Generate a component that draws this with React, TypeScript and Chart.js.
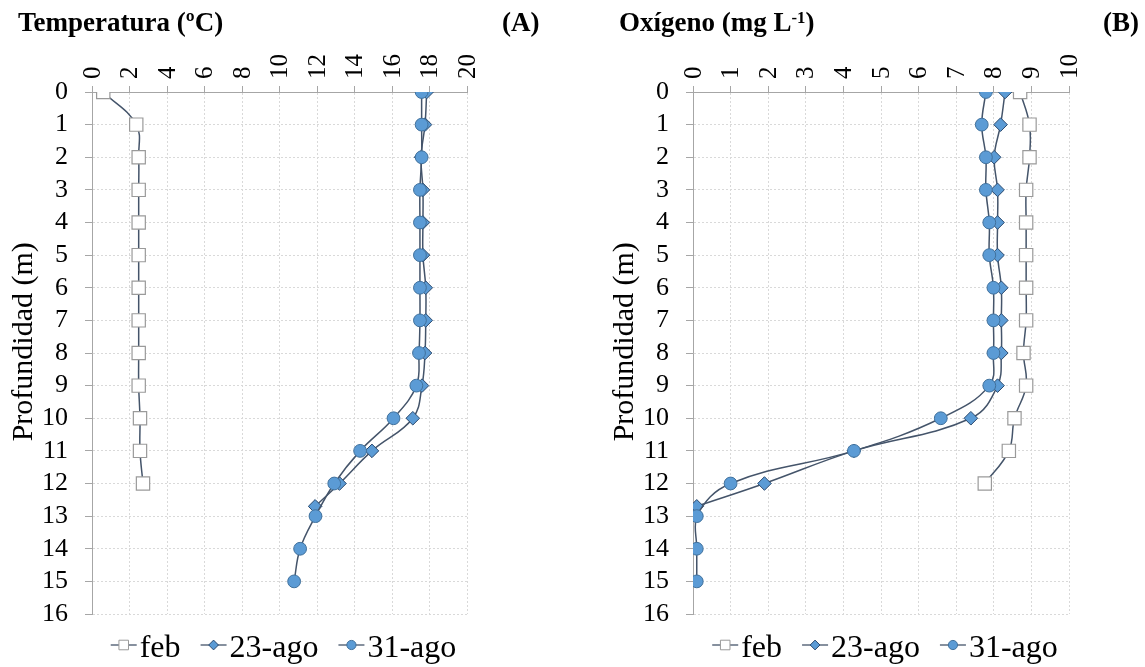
import React, { useEffect, useRef } from 'react';
import { Chart, registerables } from 'chart.js';

Chart.register(...registerables);

// ---------- data ----------
const seriesLabels = ['feb', '23-ago', '31-ago'];

const febDepth = [0, 1, 2, 3, 4, 5, 6, 7, 8, 9, 10, 11, 12];
const ago23Depth = [0, 1, 2, 3, 4, 5, 6, 7, 8, 9, 10, 11, 12, 12.7];
const ago31Depth = [0, 1, 2, 3, 4, 5, 6, 7, 8, 9, 10, 11, 12, 13, 14, 15];

const tempFeb = [0.6, 2.36, 2.49, 2.49, 2.49, 2.49, 2.49, 2.49, 2.49, 2.49, 2.56, 2.56, 2.72];
const temp23 = [17.85, 17.76, 17.55, 17.65, 17.65, 17.65, 17.8, 17.8, 17.76, 17.6, 17.11, 14.93, 13.2, 11.9];
const temp31 = [17.58, 17.58, 17.58, 17.49, 17.49, 17.49, 17.49, 17.49, 17.44, 17.3, 16.08, 14.3, 12.92, 11.92, 11.1, 10.78];

const oxyFeb = [8.7, 8.95, 8.95, 8.86, 8.86, 8.86, 8.86, 8.86, 8.79, 8.86, 8.55, 8.4, 7.76];
const oxy23 = [8.3, 8.18, 8.01, 8.1, 8.1, 8.1, 8.2, 8.2, 8.2, 8.1, 7.39, 4.28, 1.9, 0.1];
const oxy31 = [7.79, 7.68, 7.79, 7.79, 7.88, 7.88, 7.99, 7.99, 7.99, 7.88, 6.59, 4.28, 1.0, 0.1, 0.1, 0.1];

const depthMin = 0;
const depthMax = 16;
const tempMax = 20;
const tempStep = 2;
const oxyMax = 10;
const oxyStep = 1;

const yTitle = '   Profundidad (m)';

// ---------- styles ----------
const SERIF = '"Liberation Serif", "Times New Roman", serif';
const LINE = '#44546A';
const BLUE = '#5B9BD5';
const GRID = '#D9D9D9';
const AXIS = '#A6A6A6';
const X_TICK_LEN = 6;
const X_TICK_PAD = 7;

function pts(values: number[], depths: number[]) {
  return values.map((v, i) => ({ x: v, y: depths[i] }));
}

function drawMarker(ctx: CanvasRenderingContext2D, style: string, x: number, y: number, r: number, fill: string, stroke: string, bw: number) {
  ctx.beginPath();
  if (style === 'rect') {
    const s = r * Math.SQRT1_2;
    ctx.rect(x - s, y - s, 2 * s, 2 * s);
  } else if (style === 'rectRot') {
    ctx.moveTo(x, y - r);
    ctx.lineTo(x + r, y);
    ctx.lineTo(x, y + r);
    ctx.lineTo(x - r, y);
    ctx.closePath();
  } else {
    ctx.arc(x, y, r, 0, Math.PI * 2);
  }
  ctx.fillStyle = fill;
  ctx.fill();
  ctx.lineWidth = bw;
  ctx.strokeStyle = stroke;
  ctx.stroke();
}

// rotated tick labels of the top x axis, placed with the library's own scale
const topTickLabels = {
  id: 'topTickLabels',
  afterDraw(chart: any) {
    const { ctx, chartArea } = chart;
    const scale = chart.scales.x;
    ctx.save();
    ctx.font = `25px ${SERIF}`;
    ctx.fillStyle = '#000';
    ctx.textAlign = 'left';
    ctx.textBaseline = 'middle';
    scale.ticks.forEach((t: any) => {
      const x = scale.getPixelForValue(t.value);
      ctx.save();
      ctx.translate(x + 1, chartArea.top - X_TICK_LEN - X_TICK_PAD);
      ctx.rotate(-Math.PI / 2);
      ctx.fillText(String(t.value), 0, 0);
      ctx.restore();
    });
    ctx.restore();
  },
};

const excelLegend = {
  id: 'excelLegend',
  afterDraw(chart: any) {
    const { ctx, chartArea } = chart;
    ctx.save();
    ctx.font = `32px ${SERIF}`;
    const lineLen = 26;
    const gapText = 3;
    const gapItem = 20;
    const items = chart.data.datasets.map((ds: any) => ({ ds, w: ctx.measureText(ds.label).width }));
    const total = items.reduce((s: number, it: any) => s + lineLen + gapText + it.w, 0) + gapItem * (items.length - 1);
    let x = (chartArea.left + chartArea.right) / 2 + 4 - total / 2;
    const yMid = chartArea.bottom + 31;
    const yBase = chartArea.bottom + 43;
    items.forEach((it: any) => {
      const ds = it.ds;
      ctx.strokeStyle = ds.borderColor;
      ctx.lineWidth = 1.3;
      ctx.beginPath();
      ctx.moveTo(x, yMid);
      ctx.lineTo(x + lineLen, yMid);
      ctx.stroke();
      drawMarker(ctx, ds.pointStyle, x + lineLen / 2, yMid, ds.pointRadius * 0.72, ds.pointBackgroundColor, ds.pointBorderColor, 1);
      ctx.fillStyle = '#000';
      ctx.textAlign = 'left';
      ctx.textBaseline = 'alphabetic';
      ctx.fillText(ds.label, x + lineLen + gapText, yBase);
      x += lineLen + gapText + it.w + gapItem;
    });
    ctx.restore();
  },
};

function makeConfig(feb: number[], a23: number[], a31: number[], xMax: number, xStep: number, rightPad: number): any {
  const common = {
    showLine: true,
    borderColor: LINE,
    borderWidth: 1.5,
    tension: 0.4,
    fill: false,
  };
  return {
    type: 'scatter',
    data: {
      datasets: [
        {
          ...common,
          label: seriesLabels[0],
          data: pts(feb, febDepth),
          pointStyle: 'rect',
          pointRadius: 9.4,
          pointBackgroundColor: '#FFFFFF',
          pointBorderColor: '#9A9A9A',
          pointBorderWidth: 1.2,
          order: 3,
        },
        {
          ...common,
          label: seriesLabels[1],
          data: pts(a23, ago23Depth),
          pointStyle: 'rectRot',
          pointRadius: 6.8,
          pointBackgroundColor: BLUE,
          pointBorderColor: '#2C4A6E',
          pointBorderWidth: 1,
          order: 2,
        },
        {
          ...common,
          label: seriesLabels[2],
          data: pts(a31, ago31Depth),
          pointStyle: 'circle',
          pointRadius: 6.4,
          pointBackgroundColor: BLUE,
          pointBorderColor: '#41719C',
          pointBorderWidth: 1,
          order: 1,
        },
      ],
    },
    options: {
      responsive: false,
      animation: false,
      layout: { padding: { left: 0, top: 0, right: rightPad, bottom: 53 } },
      plugins: {
        legend: { display: false },
        title: { display: false },
        tooltip: { enabled: false },
      },
      scales: {
        x: {
          type: 'linear',
          position: 'top',
          min: 0,
          max: xMax,
          afterFit: (s: any) => { s.height = 92; },
          ticks: {
            stepSize: xStep,
            autoSkip: false,
            display: false,
          },
          grid: { color: GRID, lineWidth: 1, tickLength: X_TICK_LEN, tickColor: AXIS, tickWidth: 1 },
          border: { display: true, color: AXIS, width: 1, dash: [2, 2] },
        },
        y: {
          type: 'linear',
          reverse: true,
          min: depthMin,
          max: depthMax,
          afterFit: (s: any) => { s.width = 92; },
          ticks: {
            stepSize: 1,
            autoSkip: false,
            padding: 17,
            color: '#000',
            font: { family: SERIF, size: 26 },
          },
          grid: { color: GRID, lineWidth: 1, tickLength: 7, tickColor: AXIS, tickWidth: 1 },
          border: { display: true, color: AXIS, width: 1, dash: [2, 2] },
          title: {
            display: true,
            text: yTitle,
            color: '#000',
            font: { family: SERIF, size: 30 },
            padding: { top: 6, bottom: 0 },
          },
        },
      },
    },
    plugins: [topTickLabels, excelLegend],
  };
}

function ProfileChart({ config, left, width }: { config: any; left: number; width: number }) {
  const ref = useRef<HTMLCanvasElement>(null);
  useEffect(() => {
    const chart = new Chart(ref.current as HTMLCanvasElement, config);
    return () => chart.destroy();
  }, []);
  return (
    <canvas
      ref={ref}
      width={width}
      height={667}
      style={{ position: 'absolute', left, top: 0, width, height: 667 }}
    />
  );
}

const titleStyle: React.CSSProperties = {
  position: 'absolute',
  top: 9,
  font: `bold 27px ${SERIF}`,
  lineHeight: '27px',
  color: '#000',
  whiteSpace: 'nowrap',
  margin: 0,
};

export default function App() {
  const cfgA = makeConfig(tempFeb, temp23, temp31, tempMax, tempStep, 601 - 467);
  const cfgB = makeConfig(oxyFeb, oxy23, oxy31, oxyMax, oxyStep, 544 - 468);
  return (
    <div style={{ position: 'absolute', left: 0, top: 0, width: 1145, height: 667, background: '#fff', overflow: 'hidden' }}>
      <ProfileChart config={cfgA} left={0} width={601} />
      <ProfileChart config={cfgB} left={601} width={544} />
      <div style={{ ...titleStyle, left: 18 }}>Temperatura (ºC)</div>
      <div style={{ ...titleStyle, left: 502 }}>(A)</div>
      <div style={{ ...titleStyle, left: 619 }}>
        Oxígeno (mg L<sup style={{ fontSize: '0.62em', verticalAlign: '0.45em', lineHeight: 0 }}>-1</sup>)
      </div>
      <div style={{ ...titleStyle, left: 1103 }}>(B)</div>
    </div>
  );
}
